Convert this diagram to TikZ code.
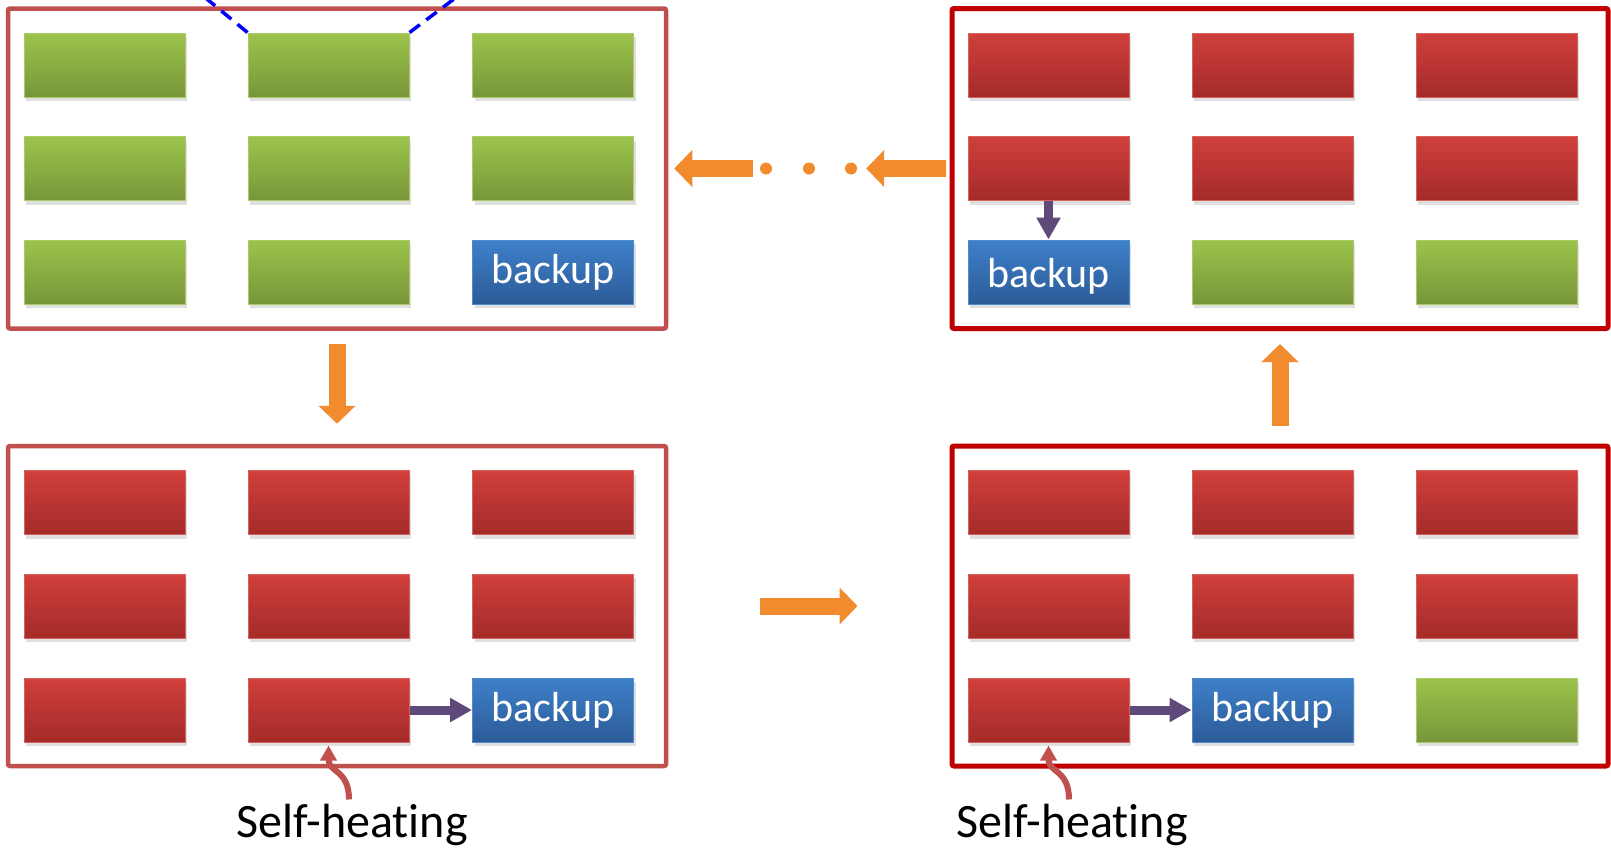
\documentclass[tikz,border=0pt]{standalone}
\usepackage{fontspec}
\setmainfont{Carlito}[Ligatures=NoCommon]
\usetikzlibrary{arrows.meta, shadows}
\definecolor{cFrameL}{HTML}{C0504D}
\definecolor{cFrameR}{HTML}{C00000}
\definecolor{cGreenTop}{HTML}{9DC34B}
\definecolor{cGreenBot}{HTML}{77963A}
\definecolor{cGreenEdge}{HTML}{A9CC66}
\definecolor{cRedTop}{HTML}{D03F3C}
\definecolor{cRedBot}{HTML}{A42B29}
\definecolor{cRedEdge}{HTML}{D8605D}
\definecolor{cBlueTop}{HTML}{3E80CB}
\definecolor{cBlueBot}{HTML}{2C5B96}
\definecolor{cBlueEdge}{HTML}{4F8BCE}
\definecolor{cOrange}{HTML}{F28A2E}
\definecolor{cPurple}{HTML}{5F497A}
\tikzset{
  cell/.style={rectangle, minimum width=161pt, minimum height=64pt, inner sep=0pt,
               line width=1pt, drop shadow={opacity=0.25, shadow xshift=2pt, shadow yshift=-4pt}},
  gcell/.style={cell, draw=cGreenEdge, top color=cGreenTop, bottom color=cGreenBot},
  rcell/.style={cell, draw=cRedEdge, top color=cRedTop, bottom color=cRedBot},
  bcell/.style={cell, draw=cBlueEdge, top color=cBlueTop, bottom color=cBlueBot,
                text=white, font=\fontsize{42}{42}\selectfont},
  lframe/.style={draw=cFrameL, line width=4.5pt, rounded corners=2pt,
                 minimum width=658pt, minimum height=320pt},
  rframe/.style={draw=cFrameR, line width=5pt, rounded corners=2pt,
                 minimum width=656pt, minimum height=320pt},
  steparrow/.style={cOrange, line width=17pt, -{Triangle[width=36pt,length=18pt]}},
  movearrow/.style={cPurple, line width=9pt, -{Triangle[width=23pt,length=22pt]}},
  heatarrow/.style={cFrameL, line width=6pt, -{Triangle[width=16pt,length=15pt]}},
  heatlabel/.style={font=\fontsize{48}{48}\selectfont, inner sep=0pt},
  gapdot/.style={circle, fill=cOrange, minimum size=12pt, inner sep=0pt},
  viewline/.style={blue, line width=3.5pt, dash pattern=on 13pt off 8pt},
}
\begin{document}
\begin{tikzpicture}[x=1pt, y=-1pt]
  \useasboundingbox (0,0) rectangle (1611,847);
  % frames
  \node[lframe] (ftl) at (337,168.5) {};
  \node[rframe] (ftr) at (1280,168.5) {};
  \node[lframe] (fbl) at (337,606) {};
  \node[rframe] (fbr) at (1280,606) {};
  % top left
  \node[gcell] (tl11) at (104.5,65) {};
  \node[gcell] (tl12) at (328.5,65) {};
  \node[gcell] (tl13) at (553,65) {};
  \node[gcell] (tl21) at (104.5,168.5) {};
  \node[gcell] (tl22) at (328.5,168.5) {};
  \node[gcell] (tl23) at (553,168.5) {};
  \node[gcell] (tl31) at (104.5,272) {};
  \node[gcell] (tl32) at (328.5,272) {};
  \node[bcell] (tl33) at (553,272) {backup};
  % top right
  \node[rcell] (tr11) at (1048.5,65) {};
  \node[rcell] (tr12) at (1272.5,65) {};
  \node[rcell] (tr13) at (1496.5,65) {};
  \node[rcell] (tr21) at (1048.5,168.5) {};
  \node[rcell] (tr22) at (1272.5,168.5) {};
  \node[rcell] (tr23) at (1496.5,168.5) {};
  \node[bcell] (tr31) at (1048.5,272) {\smash{\raisebox{-15pt}{backup}}};
  \node[gcell] (tr32) at (1272.5,272) {};
  \node[gcell] (tr33) at (1496.5,272) {};
  % bottom left
  \node[rcell] (bl11) at (104.5,502.5) {};
  \node[rcell] (bl12) at (328.5,502.5) {};
  \node[rcell] (bl13) at (553,502.5) {};
  \node[rcell] (bl21) at (104.5,606) {};
  \node[rcell] (bl22) at (328.5,606) {};
  \node[rcell] (bl23) at (553,606) {};
  \node[rcell] (bl31) at (104.5,710) {};
  \node[rcell] (bl32) at (328.5,710) {};
  \node[bcell] (bl33) at (553,710) {backup};
  % bottom right
  \node[rcell] (br11) at (1048.5,502.5) {};
  \node[rcell] (br12) at (1272.5,502.5) {};
  \node[rcell] (br13) at (1496.5,502.5) {};
  \node[rcell] (br21) at (1048.5,606) {};
  \node[rcell] (br22) at (1272.5,606) {};
  \node[rcell] (br23) at (1496.5,606) {};
  \node[rcell] (br31) at (1048.5,710) {};
  \node[bcell] (br32) at (1272.5,710) {backup};
  \node[gcell] (br33) at (1496.5,710) {};
  % view lines
  \coordinate (vl) at (196,-10);
  \coordinate (vr) at (466,-10);
  \draw[viewline] (tl12.north west) -- (vl);
  \draw[viewline] (tl12.north east) -- (vr);
  % steps
  \node[gapdot] (d1) at (766,168.5) {};
  \node[gapdot] (d2) at (809,168.5) {};
  \node[gapdot] (d3) at (851,168.5) {};
  \draw[steparrow, shorten <=13pt, shorten >=20pt] (ftl) -- (fbl);
  \draw[steparrow, shorten <=92pt, shorten >=92pt] (fbl) -- (fbr);
  \draw[steparrow, shorten <=18pt, shorten >=13pt] (fbr) -- (ftr);
  \draw[steparrow, shorten <=4pt, shorten >=9pt] (ftr) -- (d3);
  \draw[steparrow, shorten <=7pt, shorten >=6pt] (d1) -- (ftl);
  % migrations
  \draw[movearrow] (bl32) -- (bl33);
  \draw[movearrow] (br31) -- (br32);
  \draw[movearrow] (tr21) -- (tr31);
  % self-heating
  \node[heatlabel, anchor=base] (sh1) at (352,837) {Self-heating};
  \node[heatlabel, anchor=base] (sh2) at (1072,837) {Self-heating};
  \draw[heatarrow] ([xshift=-3pt, yshift=4pt]sh1.north)
    .. controls +(0,-30) and +(0,27) .. ([yshift=-3pt]bl32.south);
  \draw[heatarrow] ([xshift=-3pt, yshift=4pt]sh2.north)
    .. controls +(0,-30) and +(0,27) .. ([yshift=-3pt]br31.south);
\end{tikzpicture}
\end{document}
